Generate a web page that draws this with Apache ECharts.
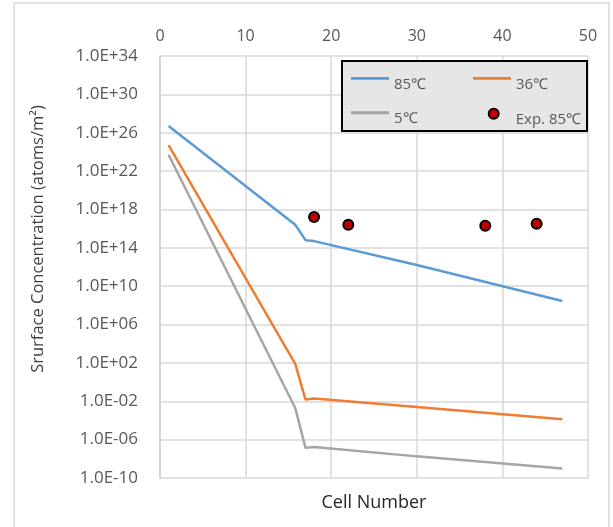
<!DOCTYPE html>
<html>
<head>
<meta charset="utf-8">
<script src="https://cdn.jsdelivr.net/npm/echarts@6/dist/echarts.min.js"></script>
<style>
html,body{margin:0;padding:0;background:#fff;}
#chart{width:613px;height:527px;}
</style>
</head>
<body>
<div id="chart"></div>
<script>
// ---- data ----
var cells85 = [1, 15.8, 17, 18, 30, 47];
var conc85  = [5e26, 2.5e16, 6.3e14, 5e14, 1.6e12, 2.8e8];
var cells36 = [1, 15.8, 17, 18, 30, 47];
var conc36  = [5e24, 80, 1.5e-2, 1.9e-2, 2.5e-3, 1.3e-4];
var cells5  = [1, 15.8, 17, 18, 30, 47];
var conc5   = [5e23, 2e-3, 1.4e-7, 1.7e-7, 1.8e-8, 1e-9];
var expCells = [18, 22, 38, 44];
var expConc  = [1.6e17, 2.5e16, 2e16, 3.2e16];
var xTicks = [0, 10, 20, 30, 40, 50];
var yTickValues = [1e-10, 1e-6, 1e-2, 1e2, 1e6, 1e10, 1e14, 1e18, 1e22, 1e26, 1e30, 1e34];
var yTickLabels = ['1.0E-10','1.0E-06','1.0E-02','1.0E+02','1.0E+06','1.0E+10','1.0E+14','1.0E+18','1.0E+22','1.0E+26','1.0E+30','1.0E+34'];
var seriesNames = ['85℃', '36℃', '5℃', 'Exp. 85℃'];

function pairs(xs, ys){ return xs.map(function(x,i){ return [x, ys[i]]; }); }
function labelFor(v){
  var e = Math.round(Math.log10(v));
  for (var i=0;i<yTickValues.length;i++){ if (Math.round(Math.log10(yTickValues[i]))===e) return yTickLabels[i]; }
  return '';
}
var FONT = 'Open Sans';
var gridColor = '#d9d9d9';
var textColor = '#595959';
var lineIcon = 'path://M0,0L40,0L40,3L0,3Z';

function legendAt(name, icon, left, top, iw, padLeft){
  return {
    data:[{name:name, icon:icon}], left:left, top:top, padding:0,
    itemWidth:iw, itemHeight:10, itemGap:0, z:10, selectedMode:false,
    formatter:function(n){ return '{t|' + n + '}'; },
    textStyle:{color:textColor, fontSize:15, fontFamily:FONT,
      rich:{t:{color:textColor, fontSize:15, fontFamily:FONT, padding:[12,0,0,padLeft]}}}
  };
}

var chart = echarts.init(document.getElementById('chart'), null, {renderer:'canvas'});
chart.setOption({
  animation:false,
  backgroundColor:'#fff',
  textStyle:{fontFamily:FONT},
  grid:{left:160, right:25, top:56, bottom:49, containLabel:false},
  xAxis:{
    type:'value', position:'top', min:0, max:50, interval:10,
    axisLine:{show:false}, axisTick:{show:false},
    axisLabel:{color:textColor, fontSize:16, fontFamily:FONT, margin:12,
      customValues: xTicks},
    splitLine:{show:true, lineStyle:{color:gridColor, width:1.5}}
  },
  yAxis:{
    type:'log', logBase:10, min:1e-10, max:1e34,
    axisLine:{show:true, lineStyle:{color:'#cfcfcf', width:1.5}},
    axisTick:{show:false, customValues: yTickValues},
    axisLabel:{color:textColor, fontSize:17, fontFamily:FONT, margin:22,
      customValues: yTickValues, formatter:function(v){ return labelFor(v); }},
    splitLine:{show:true, lineStyle:{color:gridColor, width:1.5}}
  },
  legend:[
    legendAt(seriesNames[0], lineIcon, 351, 76.8, 38, 0),
    legendAt(seriesNames[1], lineIcon, 473, 76.8, 38, 0),
    legendAt(seriesNames[2], lineIcon, 351, 111.2, 38, 0),
    legendAt(seriesNames[3], 'circle', 487.7, 107.7, 10, 12)
  ],
  graphic:[
    {type:'rect', shape:{x:14, y:3, width:595, height:530}, style:{fill:'none', stroke:'#d9d9d9', lineWidth:1.5}, z:0, silent:true},
    {type:'rect', shape:{x:342, y:61, width:245, height:70}, style:{fill:'#e6e6e6', stroke:'#000', lineWidth:2}, z:5, silent:true},
    {type:'text', x:38, y:239, rotation:Math.PI/2, style:{text:'Srurface Concentration (atoms/m²)', fill:'#404040', font:'16.5px "Open Sans"', align:'center', verticalAlign:'middle'}, silent:true},
    {type:'text', x:374, y:503, style:{text:'Cell Number', fill:'#262626', font:'18px "Open Sans"', align:'center', verticalAlign:'middle'}, silent:true}
  ],
  series:[
    {name:seriesNames[0], type:'line', data:pairs(cells85, conc85), showSymbol:false, smooth:false,
      lineStyle:{color:'#5b9bd5', width:2.5}, itemStyle:{color:'#5b9bd5', borderWidth:0}},
    {name:seriesNames[1], type:'line', data:pairs(cells36, conc36), showSymbol:false, smooth:false,
      lineStyle:{color:'#ed7d31', width:2.5}, itemStyle:{color:'#ed7d31', borderWidth:0}},
    {name:seriesNames[2], type:'line', data:pairs(cells5, conc5), showSymbol:false, smooth:false,
      lineStyle:{color:'#a5a5a5', width:2.5}, itemStyle:{color:'#a5a5a5', borderWidth:0}},
    {name:seriesNames[3], type:'scatter', data:pairs(expCells, expConc), symbolSize:10,
      itemStyle:{color:'#c00000', borderColor:'#000', borderWidth:2, opacity:1}}
  ]
});
</script>
</body>
</html>
